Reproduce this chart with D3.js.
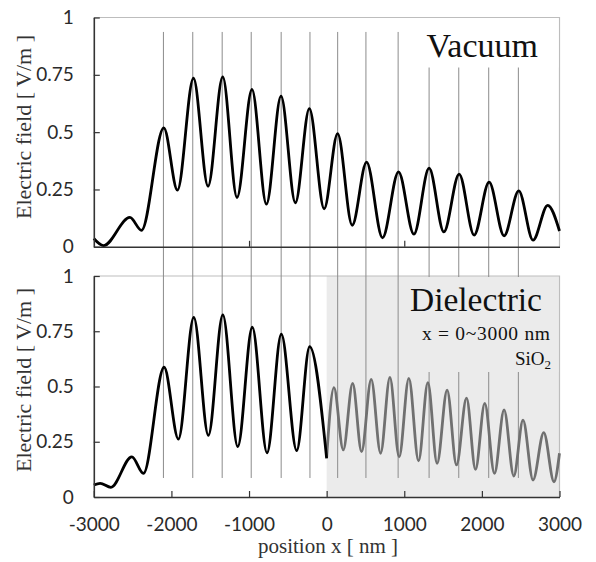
<!DOCTYPE html>
<html><head><meta charset="utf-8">
<script src="https://cdn.jsdelivr.net/npm/d3@7"></script>
<style>body{margin:0;background:#fff}</style>
</head><body><svg id="c" width="596" height="562"></svg>
<script>
// ---- data ----
const xTicks = [-3000, -2000, -1000, 0, 1000, 2000, 3000];
const xTicksTop = [-1000, 1000];
const yTicks = [0, 0.25, 0.5, 0.75, 1];
const yTickLabels = ["0", "0.25", "0.5", "0.75", "1"];
const peakLines = [-2103, -1725, -1346, -972, -586, -215, 142, 506, 921, 1320, 1702, 2088, 2470];

const vacuumX = [-3000,-2875,-2535,-2385,-2098,-1922,-1716,-1528,-1339,-1155,-962,-776,-588,-403,-223,-32,141,329,514,720,926,1124,1320,1510,1707,1900,2093,2286,2475,2659,2848,3000];
const vacuumE = [0.036,0.005,0.128,0.072,0.519,0.247,0.735,0.264,0.741,0.215,0.686,0.186,0.657,0.192,0.603,0.166,0.494,0.094,0.369,0.039,0.327,0.055,0.343,0.065,0.317,0.051,0.282,0.048,0.244,0.029,0.181,0.069];

const dielLeftX = [-3000,-2918,-2780,-2510,-2360,-2094,-1910,-1712,-1524,-1338,-1145,-958,-768,-584,-386,-219,0];
const dielLeftE = [0.054,0.062,0.044,0.182,0.107,0.587,0.262,0.813,0.279,0.824,0.228,0.768,0.200,0.737,0.210,0.680,0.175];

const dielRightX = [0,94,214,335,450,574,695,815,934,1059,1184,1304,1423,1552,1673,1802,1918,2037,2162,2286,2411,2530,2659,2797,2929,3000];
const dielRightE = [0.18,0.495,0.213,0.514,0.205,0.532,0.198,0.541,0.182,0.537,0.164,0.517,0.152,0.484,0.145,0.447,0.125,0.424,0.107,0.394,0.095,0.348,0.077,0.291,0.069,0.198];

const dielRegion = [0, 3000];

// ---- layout ----
const svg = d3.select("#c");
const x = d3.scaleLinear().domain([-3000, 3000]).range([93.8, 559.5]);
const yTop = d3.scaleLinear().domain([0, 1]).range([246.8, 17.5]);
const yBot = d3.scaleLinear().domain([0, 1]).range([497, 276]);

const tickFont = "Lato, 'Open Sans', sans-serif";
const serif = "'Liberation Serif', 'DejaVu Serif', serif";

// dielectric shaded region
svg.append("rect")
  .attr("x", x(dielRegion[0])).attr("y", yBot(1))
  .attr("width", x(dielRegion[1]) - x(dielRegion[0]))
  .attr("height", yBot(0) - yBot(1))
  .attr("fill", "#ebebeb");

// light frame (top/right borders)
function frame(y) {
  svg.append("path")
    .attr("d", `M${x(-3000)},${y(1)}H${x(3000)}V${y(0)}`)
    .attr("fill", "none").attr("stroke", "#bdbdbd").attr("stroke-width", 1.2);
}
frame(yTop); frame(yBot);

// vertical peak lines
svg.append("g").selectAll("line").data(peakLines).join("line")
  .attr("x1", d => x(d)).attr("x2", d => x(d))
  .attr("y1", yTop(0.937)).attr("y2", yBot(0.086))
  .attr("stroke", "#8c8c8c").attr("stroke-width", 1);

// label boxes covering lines
svg.append("rect").attr("x", 405).attr("y", yTop(1) + 1).attr("width", x(3000) - 406).attr("height", 49)
  .attr("fill", "#fff");
svg.append("rect").attr("x", 405).attr("y", yBot(1) + 1).attr("width", x(3000) - 406).attr("height", 95)
  .attr("fill", "#ebebeb");

svg.append("text").attr("x", 538).attr("y", 56.5).attr("text-anchor", "end")
  .attr("font-family", serif).attr("font-size", 34).attr("fill", "#111").text("Vacuum");
svg.append("text").attr("x", 542).attr("y", 311).attr("text-anchor", "end")
  .attr("font-family", serif).attr("font-size", 33.5).attr("fill", "#111").text("Dielectric");
svg.append("text").attr("x", 550).attr("y", 340).attr("text-anchor", "end")
  .attr("font-family", serif).attr("font-size", 19.5).attr("fill", "#111")
  .attr("textLength", 128).attr("lengthAdjust", "spacing").text("x = 0~3000 nm");
const sio = svg.append("text").attr("x", 551).attr("y", 365).attr("text-anchor", "end")
  .attr("font-family", serif).attr("font-size", 19).attr("fill", "#111");
sio.append("tspan").text("SiO");
sio.append("tspan").attr("font-size", 13).attr("dy", 4).text("2");

// curves
const lineTop = d3.line().x(d => x(d[0])).y(d => yTop(d[1])).curve(d3.curveMonotoneX);
const lineBot = d3.line().x(d => x(d[0])).y(d => yBot(d[1])).curve(d3.curveMonotoneX);

svg.append("path").datum(d3.zip(vacuumX, vacuumE)).attr("d", lineTop)
  .attr("fill", "none").attr("stroke", "#000").attr("stroke-width", 2.8);
svg.append("path").datum(d3.zip(dielRightX, dielRightE)).attr("d", lineBot)
  .attr("fill", "none").attr("stroke", "#707070").attr("stroke-width", 2.8);
svg.append("path").datum(d3.zip(dielLeftX, dielLeftE)).attr("d", lineBot)
  .attr("fill", "none").attr("stroke", "#000").attr("stroke-width", 2.8);

// axes
function yAxis(y) {
  const g = svg.append("g").attr("transform", `translate(${x(-3000)},0)`)
    .call(d3.axisLeft(y).tickValues(yTicks).tickFormat((d, i) => yTickLabels[i])
      .tickSizeInner(-6).tickSizeOuter(0).tickPadding(20));
  g.select(".domain").attr("stroke", "#333").attr("stroke-width", 1.6);
  g.selectAll(".tick line").attr("stroke", "#333").attr("stroke-width", 1.2);
  g.selectAll("text").attr("font-family", tickFont).attr("font-size", 19).attr("fill", "#2a2a2a");
}
yAxis(yTop); yAxis(yBot);

const gxTop = svg.append("g").attr("transform", `translate(0,${yTop(0)})`)
  .call(d3.axisBottom(x).tickValues(xTicksTop).tickFormat("").tickSizeInner(-6).tickSizeOuter(0));
gxTop.select(".domain").attr("stroke", "#333").attr("stroke-width", 1.6);
gxTop.selectAll(".tick line").attr("stroke", "#333").attr("stroke-width", 1.2);

const gxBot = svg.append("g").attr("transform", `translate(0,${yBot(0)})`)
  .call(d3.axisBottom(x).tickValues(xTicks).tickFormat(d3.format("d")).tickSizeInner(-6).tickSizeOuter(0).tickPadding(21));
gxBot.select(".domain").attr("stroke", "#333").attr("stroke-width", 1.6);
gxBot.selectAll(".tick line").attr("stroke", "#333").attr("stroke-width", 1.2);
gxBot.selectAll("text").attr("font-family", tickFont).attr("font-size", 19).attr("fill", "#2a2a2a")
  .text(d => d < 0 ? "-" + Math.abs(d) : String(d));

// axis titles
function yTitle(cy) {
  svg.append("text").attr("transform", `translate(31,${cy}) rotate(-90)`)
    .attr("text-anchor", "middle").attr("font-family", serif).attr("font-size", 22).attr("fill", "#333")
    .text("Electric field [ V/m ]");
}
yTitle(127); yTitle(380);
svg.append("text").attr("x", 328).attr("y", 553).attr("text-anchor", "middle")
  .attr("font-family", serif).attr("font-size", 21).attr("fill", "#333").text("position x [ nm ]");
</script></body></html>
